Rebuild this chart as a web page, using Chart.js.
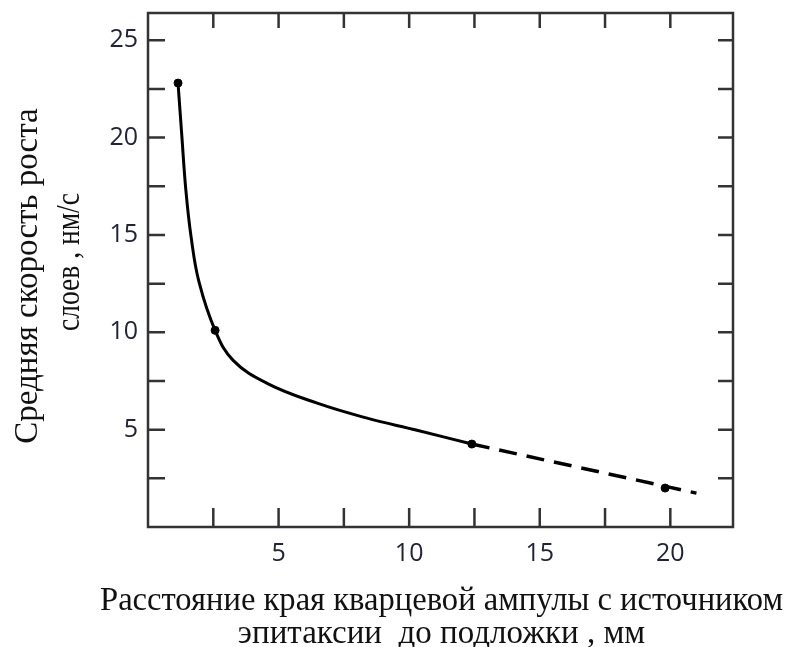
<!DOCTYPE html>
<html>
<head>
<meta charset="utf-8">
<script src="https://cdn.jsdelivr.net/npm/chart.js@4.4.0/dist/chart.umd.min.js"></script>
<style>
  html, body { margin: 0; padding: 0; background: #fff; }
  #wrap { width: 789px; height: 647px; }
</style>
</head>
<body>
<div id="wrap"><canvas id="myChart"></canvas></div>
<script>
// measured points (distance, mm / growth rate, nm/s)
const pointX = [1.15, 2.57, 12.4, 19.8];
const pointY = [22.8, 10.1, 4.26, 2.0];

// smooth fitted curve through the measured points
const curveX = [1.15, 1.3, 1.45, 1.65, 1.95, 2.57, 3.26, 4.56, 6.48, 8.39, 10.3, 12.4];
const curveY = [22.8, 20.0, 17.3, 14.9, 12.6, 10.1, 8.56, 7.38, 6.36, 5.59, 4.97, 4.26];

// extrapolation (dashed)
const dashX = [12.4, 21.0];
const dashY = [4.26, 1.74];

const xTitle = ['Расстояние края кварцевой ампулы с источником', 'эпитаксии  до подложки , мм'];
const yTitle = ['Средняя скорость роста', 'слоев , нм/с'];

const toXY = (xs, ys) => xs.map((x, i) => ({x: x, y: ys[i]}));

// box around the plot with inward tick marks every 2.5, plus the axis titles
const framePlugin = {
  id: 'frame',
  afterDraw(chart) {
    const ctx = chart.ctx;
    const a = chart.chartArea;
    const sx = chart.scales.x, sy = chart.scales.y;
    ctx.save();
    ctx.strokeStyle = '#333';
    ctx.lineWidth = 2.5;
    ctx.strokeRect(a.left, a.top, a.right - a.left, a.bottom - a.top);
    ctx.beginPath();
    for (let v = 2.5; v < sx.max; v += 2.5) {
      const px = sx.getPixelForValue(v);
      ctx.moveTo(px, a.bottom); ctx.lineTo(px, a.bottom - 19);
      ctx.moveTo(px, a.top); ctx.lineTo(px, a.top + 15);
    }
    for (let v = 2.5; v < sy.max; v += 2.5) {
      const py = sy.getPixelForValue(v);
      ctx.moveTo(a.left, py); ctx.lineTo(a.left + 17, py);
      ctx.moveTo(a.right, py); ctx.lineTo(a.right - 15, py);
    }
    ctx.stroke();

    ctx.fillStyle = '#111';
    ctx.textAlign = 'center';
    ctx.textBaseline = 'middle';
    ctx.font = '33px "Liberation Serif", serif';
    const cx = (a.left + a.right) / 2 + 1;
    ctx.fillText(xTitle[0], cx, 601, 683);
    ctx.fillText(xTitle[1], cx, 634, 408);

    ctx.save();
    ctx.translate(28, 276);
    ctx.rotate(-Math.PI / 2);
    ctx.fillText(yTitle[0], 0, 0, 336);
    ctx.restore();
    ctx.save();
    ctx.translate(70, 262);
    ctx.rotate(-Math.PI / 2);
    ctx.fillText(yTitle[1], 0, 0, 138);
    ctx.restore();
    ctx.restore();
  }
};

const ctx = document.getElementById('myChart').getContext('2d');
const myChart = new Chart(ctx, {
  type: 'scatter',
  data: {
    datasets: [
      {
        data: toXY(curveX, curveY),
        showLine: true,
        tension: 0.4,
        borderColor: '#000',
        borderWidth: 3,
        pointRadius: 0
      },
      {
        data: toXY(dashX, dashY),
        showLine: true,
        borderColor: '#000',
        borderWidth: 3.5,
        borderDash: [18, 10],
        pointRadius: 0
      },
      {
        data: toXY(pointX, pointY),
        backgroundColor: '#000',
        borderColor: '#000',
        pointRadius: 4
      }
    ]
  },
  plugins: [framePlugin],
  options: {
    responsive: true,
    maintainAspectRatio: false,
    animation: false,
    layout: { padding: { top: 13, right: 56, left: 0, bottom: 0 } },
    plugins: {
      legend: { display: false },
      tooltip: { enabled: false }
    },
    scales: {
      x: {
        type: 'linear',
        min: 0,
        max: 22.4,
        grid: { display: false, drawTicks: false },
        border: { display: false },
        ticks: {
          stepSize: 5,
          includeBounds: false,
          padding: 12,
          maxRotation: 0,
          color: '#22223a',
          font: { family: '"Open Sans", sans-serif', size: 25 },
          callback: (v) => (v === 0 ? '' : v)
        },
        afterFit: (scale) => {
          scale.height = 120;
          scale.paddingLeft = 0;
          scale.paddingRight = 0;
        }
      },
      y: {
        type: 'linear',
        min: 0,
        max: 26.4,
        grid: { display: false, drawTicks: false },
        border: { display: false },
        ticks: {
          stepSize: 5,
          includeBounds: false,
          padding: 10,
          color: '#22223a',
          font: { family: '"Open Sans", sans-serif', size: 25 },
          callback: (v) => (v === 0 ? '' : v)
        },
        afterFit: (scale) => {
          scale.width = 148;
          scale.paddingTop = 0;
          scale.paddingBottom = 0;
        }
      }
    }
  }
});
</script>
</body>
</html>
